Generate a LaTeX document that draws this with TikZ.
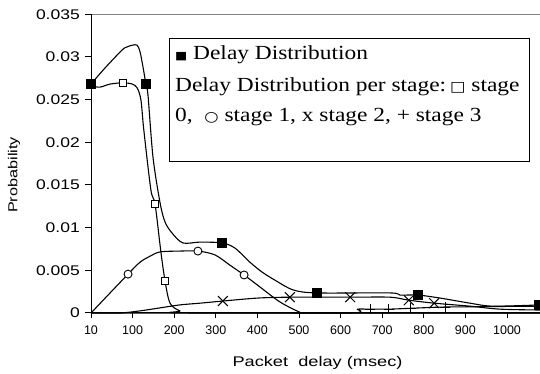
\documentclass[tikz,border=0pt]{standalone}
\usepackage{fontspec}
\setmainfont{Liberation Serif}
\setsansfont{Liberation Sans}
\newfontfamily\symfont{DejaVu Sans}
\usetikzlibrary{positioning,plotmarks}

\begin{document}
\begin{tikzpicture}[x=41.6pt, y=42.71pt, font=\sffamily]
	\tikzstyle{curvestyle} = [line width=1.1pt, line join=round]
	\tikzstyle{fullsq} = [only marks, mark=square*, mark size=4.5pt, mark options={fill=black}]
	\tikzstyle{opensq} = [only marks, mark=square*, mark size=3.8pt, mark options={fill=white, line width=0.9pt}]
	\tikzstyle{opencirc} = [only marks, mark=*, mark size=4pt, mark options={fill=white, line width=0.9pt}]
	\tikzstyle{crossmk} = [only marks, mark=x, mark size=7pt, mark options={line width=1pt}]
	\tikzstyle{plusmk} = [only marks, mark=+, mark size=5pt, mark options={line width=1pt}]
	\tikzstyle{ticklab} = [font=\sffamily\fontsize{14}{16}\selectfont]
	\tikzstyle{legtext} = [anchor=base west, inner sep=0pt, font=\rmfamily\fontsize{20}{24}\selectfont]
	
	\useasboundingbox (-91pt,-61pt) rectangle (449pt,313pt);
	
	% frame and axes
	\draw[gray, line width=0.8pt] (0,7) -- (10.8,7);
	\draw[line width=1pt] (0,7) -- (0,0) -- (10.8,0);
	
	\foreach \v/\lab in {0/0,1/0.005,2/0.01,3/0.015,4/0.02,5/0.025,6/0.03,7/0.035}{
		\draw[line width=1pt] (0,\v) -- ([xshift=-6pt]0,\v);
		\node[ticklab, anchor=base east, inner sep=0pt] (ylab\v) at ([xshift=-11pt,yshift=-5pt]0,\v) {\scalebox{1.25}[1]{\lab}};
	}
	\foreach \i/\lab in {0/10,1/100,2/200,3/300,4/400,5/500,6/600,7/700,8/800,9/900,10/1000}{
		\draw[line width=1pt] (\i,0) -- ([yshift=-5pt]\i,0);
		\node[anchor=base, inner sep=0pt, font=\sffamily\fontsize{12.5}{14}\selectfont] (xlab\i) at ([yshift=-22pt]\i,0) {\lab};
	}
	
	\node[anchor=base, inner sep=0pt, font=\sffamily\fontsize{14}{16}\selectfont] (xtitle) at (226.5pt,-53pt) {\scalebox{1.3}[1]{Packet~~delay (msec)}};
	\node[rotate=90, inner sep=0pt, font=\sffamily\fontsize{13}{15}\selectfont] (ytitle) at (-77pt,138pt) {\scalebox{1.25}[1]{Probability}};
	
	% curves
	\draw[curvestyle] plot[smooth, tension=0.5] coordinates {(0,5.36) (0.34,5.74) (0.75,6.16) (0.87,6.23) (0.99,6.27) (1.11,6.27) (1.18,6.11) (1.25,5.76) (1.32,5.36) (1.37,5.10) (1.49,3.65) (1.66,2.58) (1.78,2.13) (1.95,1.87) (2.21,1.64) (2.62,1.66) (3.15,1.64) (3.46,1.52) (3.82,1.19) (4.11,0.96) (4.42,0.77) (4.86,0.54) (5.43,0.47) (7.19,0.47) (7.43,0.42) (7.86,0.42) (8.39,0.35) (9.11,0.23) (9.66,0.16) (10.8,0.19)};
	\draw[curvestyle] plot[smooth, tension=0.5] coordinates {(0,5.31) (0.22,5.29) (0.46,5.36) (0.77,5.39) (0.99,5.36) (1.11,5.27) (1.20,4.99) (1.27,4.28) (1.44,2.88) (1.54,2.55) (1.68,1.43) (1.78,0.75) (1.90,0.23) (2.14,0.05) (2.5,0) (10.8,0)};
	\draw[curvestyle] plot[smooth, tension=0.5] coordinates {(0,0) (0.89,0.91) (1.18,1.19) (1.42,1.33) (1.66,1.43) (2.14,1.45) (2.57,1.45) (2.98,1.36) (3.34,1.12) (3.68,0.89) (4.06,0.61) (4.54,0.26) (5.02,0.02) (5.26,0) (10.8,0)};
	\draw[curvestyle] plot[smooth, tension=0.5] coordinates {(0,0) (0.70,0) (1.18,0.05) (1.66,0.12) (2.14,0.19) (2.62,0.23) (3.17,0.28) (4.01,0.35) (4.78,0.37) (6.23,0.37) (7.19,0.37) (7.64,0.30) (8.25,0.23) (9.11,0.16) (9.83,0.09) (10.8,0.07)};
	\draw[curvestyle] plot[smooth, tension=0.3] coordinates {(0,0) (6.2,0) (6.4,0.09) (6.71,0.09) (7.16,0.09) (7.69,0.11) (8.51,0.14) (10.8,0.16)};
	
	% markers
	\draw[fullsq] plot coordinates {(0,5.36) (1.32,5.36) (3.15,1.64) (5.43,0.47) (7.86,0.42) (10.75,0.19)};
	\draw[opensq] plot coordinates {(0.77,5.39) (1.54,2.55) (1.78,0.75)};
	\draw[opencirc] plot coordinates {(0.89,0.91) (2.57,1.45) (3.68,0.89)};
	\draw[crossmk] plot coordinates {(3.17,0.28) (4.78,0.37) (6.23,0.37) (7.64,0.30) (8.25,0.23)};
	\draw[plusmk] plot coordinates {(6.71,0.09) (7.16,0.09) (7.69,0.11) (8.51,0.14)};
	
	% legend
	\node[draw, fill=white, line width=0.8pt, minimum width=360pt, minimum height=123pt, inner sep=0pt, anchor=north west] (legend) at (78pt,275pt) {};
	\node[legtext] (leg1) at ([xshift=6pt,yshift=-22pt]legend.north west) {\scalebox{1.17}[1]{{\symfont\fontsize{11}{12}\selectfont ■} Delay Distribution}};
	\node[legtext] (leg2) at ([xshift=6pt,yshift=-54pt]legend.north west) {\scalebox{1.17}[1]{Delay Distribution per stage:\,{\symfont\fontsize{14}{14}\selectfont □} stage}};
	\node[legtext] (leg3) at ([xshift=6pt,yshift=-84pt]legend.north west) {\scalebox{1.17}[1]{0,\ \ {\symfont\fontsize{14}{14}\selectfont ○} stage 1, x stage 2, + stage 3}};
\end{tikzpicture}
\end{document}
